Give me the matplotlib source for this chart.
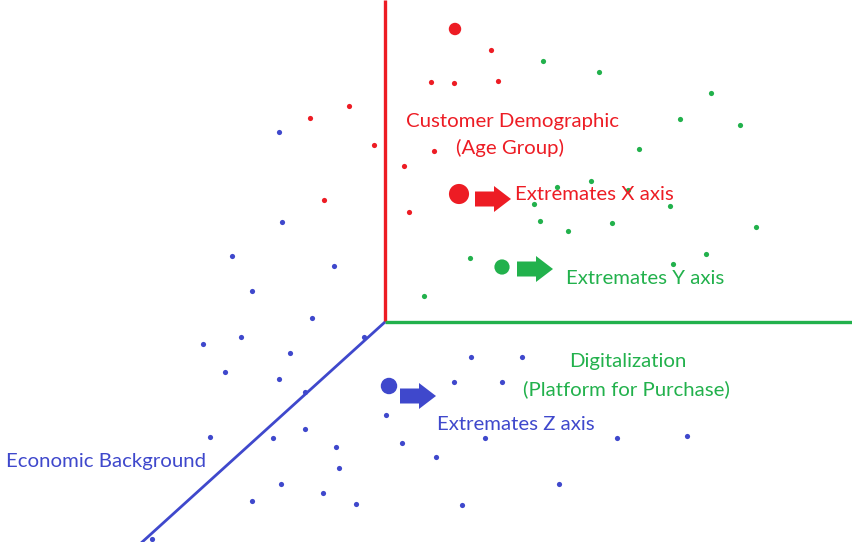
import matplotlib
matplotlib.use("Agg")
import matplotlib.pyplot as plt
from matplotlib.patches import FancyArrow

# MS Paint style colours
RED = "#ED1C24"
GREEN = "#22B14C"
BLUE = "#3F48CC"

# scatter points, in image pixel coordinates (x right, y down)
red_x = [491, 431, 454, 498, 434, 404, 409, 349, 310, 374, 324]
red_y = [50, 82, 83, 81, 151, 166, 212, 106, 118, 145, 200]

green_x = [543, 599, 711, 680, 740, 639, 591, 557, 534, 670, 540, 612, 568, 756, 470, 706, 673, 424, 628]
green_y = [61, 72, 93, 119, 125, 149, 181, 187, 204, 206, 221, 223, 231, 227, 258, 254, 264, 296, 190]

blue_x = [279, 282, 232, 334, 252, 312, 203, 241, 290, 225, 279, 364, 305, 386, 305, 210, 273,
          336, 339, 402, 281, 323, 252, 356, 152, 471, 522, 454, 502, 485, 617, 687, 436, 559, 462]
blue_y = [132, 222, 256, 266, 291, 318, 344, 337, 353, 372, 379, 337, 392, 415, 429, 437, 438,
          447, 468, 443, 484, 493, 501, 504, 539, 357, 357, 382, 382, 438, 438, 436, 457, 484, 505]

# the big "extreme" markers
big_x = [455, 459, 502, 389]
big_y = [29, 194, 267, 386]
big_size = [80, 210, 120, 140]
big_color = [RED, RED, GREEN, BLUE]

# axes lines
origin = (385, 322)
x_axis_end = (385, 0)
y_axis_end = (852, 322)
z_axis_end = (140, 544)

fig = plt.figure(figsize=(8.52, 5.42), dpi=100)
ax = fig.add_axes([0, 0, 1, 1])
ax.set_xlim(0, 852)
ax.set_ylim(542, 0)
ax.axis("off")

ax.plot([origin[0], x_axis_end[0]], [origin[1], x_axis_end[1]], color=RED, lw=2.4, solid_capstyle="butt")
ax.plot([origin[0], y_axis_end[0]], [origin[1], y_axis_end[1]], color=GREEN, lw=2.4, solid_capstyle="butt")
ax.plot([origin[0], z_axis_end[0]], [origin[1], z_axis_end[1]], color=BLUE, lw=2.0, solid_capstyle="butt")

ax.scatter(red_x, red_y, s=14, color=RED, linewidths=0)
ax.scatter(green_x, green_y, s=14, color=GREEN, linewidths=0)
ax.scatter(blue_x, blue_y, s=14, color=BLUE, linewidths=0)
ax.scatter(big_x, big_y, s=big_size, c=big_color, linewidths=0)

# block arrows
for x0, y0, col in [(475, 199, RED), (517, 269, GREEN), (400, 396, BLUE)]:
    ax.add_patch(FancyArrow(x0, y0, 36, 0, width=15, head_width=26, head_length=17,
                            length_includes_head=True, color=col, lw=0))

font = "Lato"
fs = 14.7
ax.text(513, 121, "Customer Demographic", color=RED, fontsize=fs, family=font, ha="center", va="center")
ax.text(510, 148, "(Age Group)", color=RED, fontsize=fs, family=font, ha="center", va="center")
ax.text(515, 194, "Extremates X axis", color=RED, fontsize=fs, family=font, ha="left", va="center")
ax.text(566, 279, "Extremates Y axis", color=GREEN, fontsize=fs, family=font, ha="left", va="center")
ax.text(628, 362, "Digitalization", color=GREEN, fontsize=fs, family=font, ha="center", va="center")
ax.text(626, 389, "(Platform for Purchase)", color=GREEN, fontsize=fs, family=font, ha="center", va="center")
ax.text(437, 424, "Extremates Z axis", color=BLUE, fontsize=fs, family=font, ha="left", va="center")
ax.text(6, 461, "Economic Background", color=BLUE, fontsize=fs, family=font, ha="left", va="center")

fig.savefig("out.png", dpi=100, facecolor="white")
